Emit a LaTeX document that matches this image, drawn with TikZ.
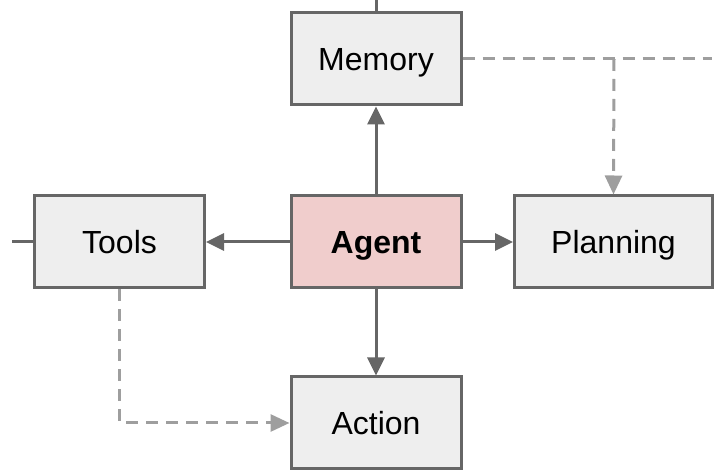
\documentclass[tikz,border=0pt]{standalone}
\usepackage{fontspec}
\setmainfont{Liberation Sans}
\usetikzlibrary{arrows.meta}

\definecolor{boxgray}{HTML}{EEEEEE}
\definecolor{agentpink}{HTML}{F0CDCC}
\definecolor{edgegray}{HTML}{666666}
\definecolor{dashgray}{HTML}{9E9E9E}

\tikzset{
  part/.style={draw=edgegray, fill=boxgray, line width=3pt, minimum width=170pt,
    minimum height=92pt, text height=23pt, text depth=0pt,
    font=\fontsize{32}{38}\selectfont},
  link/.style={draw=edgegray, line width=3pt, -{Triangle[length=18pt,width=17pt]}},
  hint/.style={draw=dashgray, line width=3pt, dash pattern=on 12pt off 8pt,
    -{Triangle[length=19pt,width=17pt]}}
}

\begin{document}
\begin{tikzpicture}[x=1pt,y=-1pt]
  \useasboundingbox (0,0) rectangle (716,470);

  \node[part, fill=agentpink, font=\fontsize{32}{38}\selectfont\bfseries] (agent) at (376,242) {Agent};
  \node[part] (memory) at (376,59) {Memory};
  \node[part] (tools) at (119.5,242) {Tools};
  \node[part, minimum width=198pt] (planning) at (613.5,242) {Planning};
  \node[part] (action) at (376,423) {Action};

  % loose ends running off the page
  \coordinate (up) at (376,0);
  \coordinate (out) at (12,242);
  \coordinate (far) at (712,59);
  \coordinate (fork) at (614,59);

  \draw[edgegray, line width=3pt] (up) -- (memory.north);
  \draw[edgegray, line width=3pt] (out) -- (tools.west);

  \draw[link] (agent) -- (memory);
  \draw[link] (agent) -- (tools);
  \draw[link] (agent) -- (planning);
  \draw[link] (agent) -- (action);

  \draw[hint, -] (memory.east) -- (far);
  \draw[hint] (fork) -- (planning.north);
  \draw[hint] (tools.south) |- (action.west);
\end{tikzpicture}
\end{document}
